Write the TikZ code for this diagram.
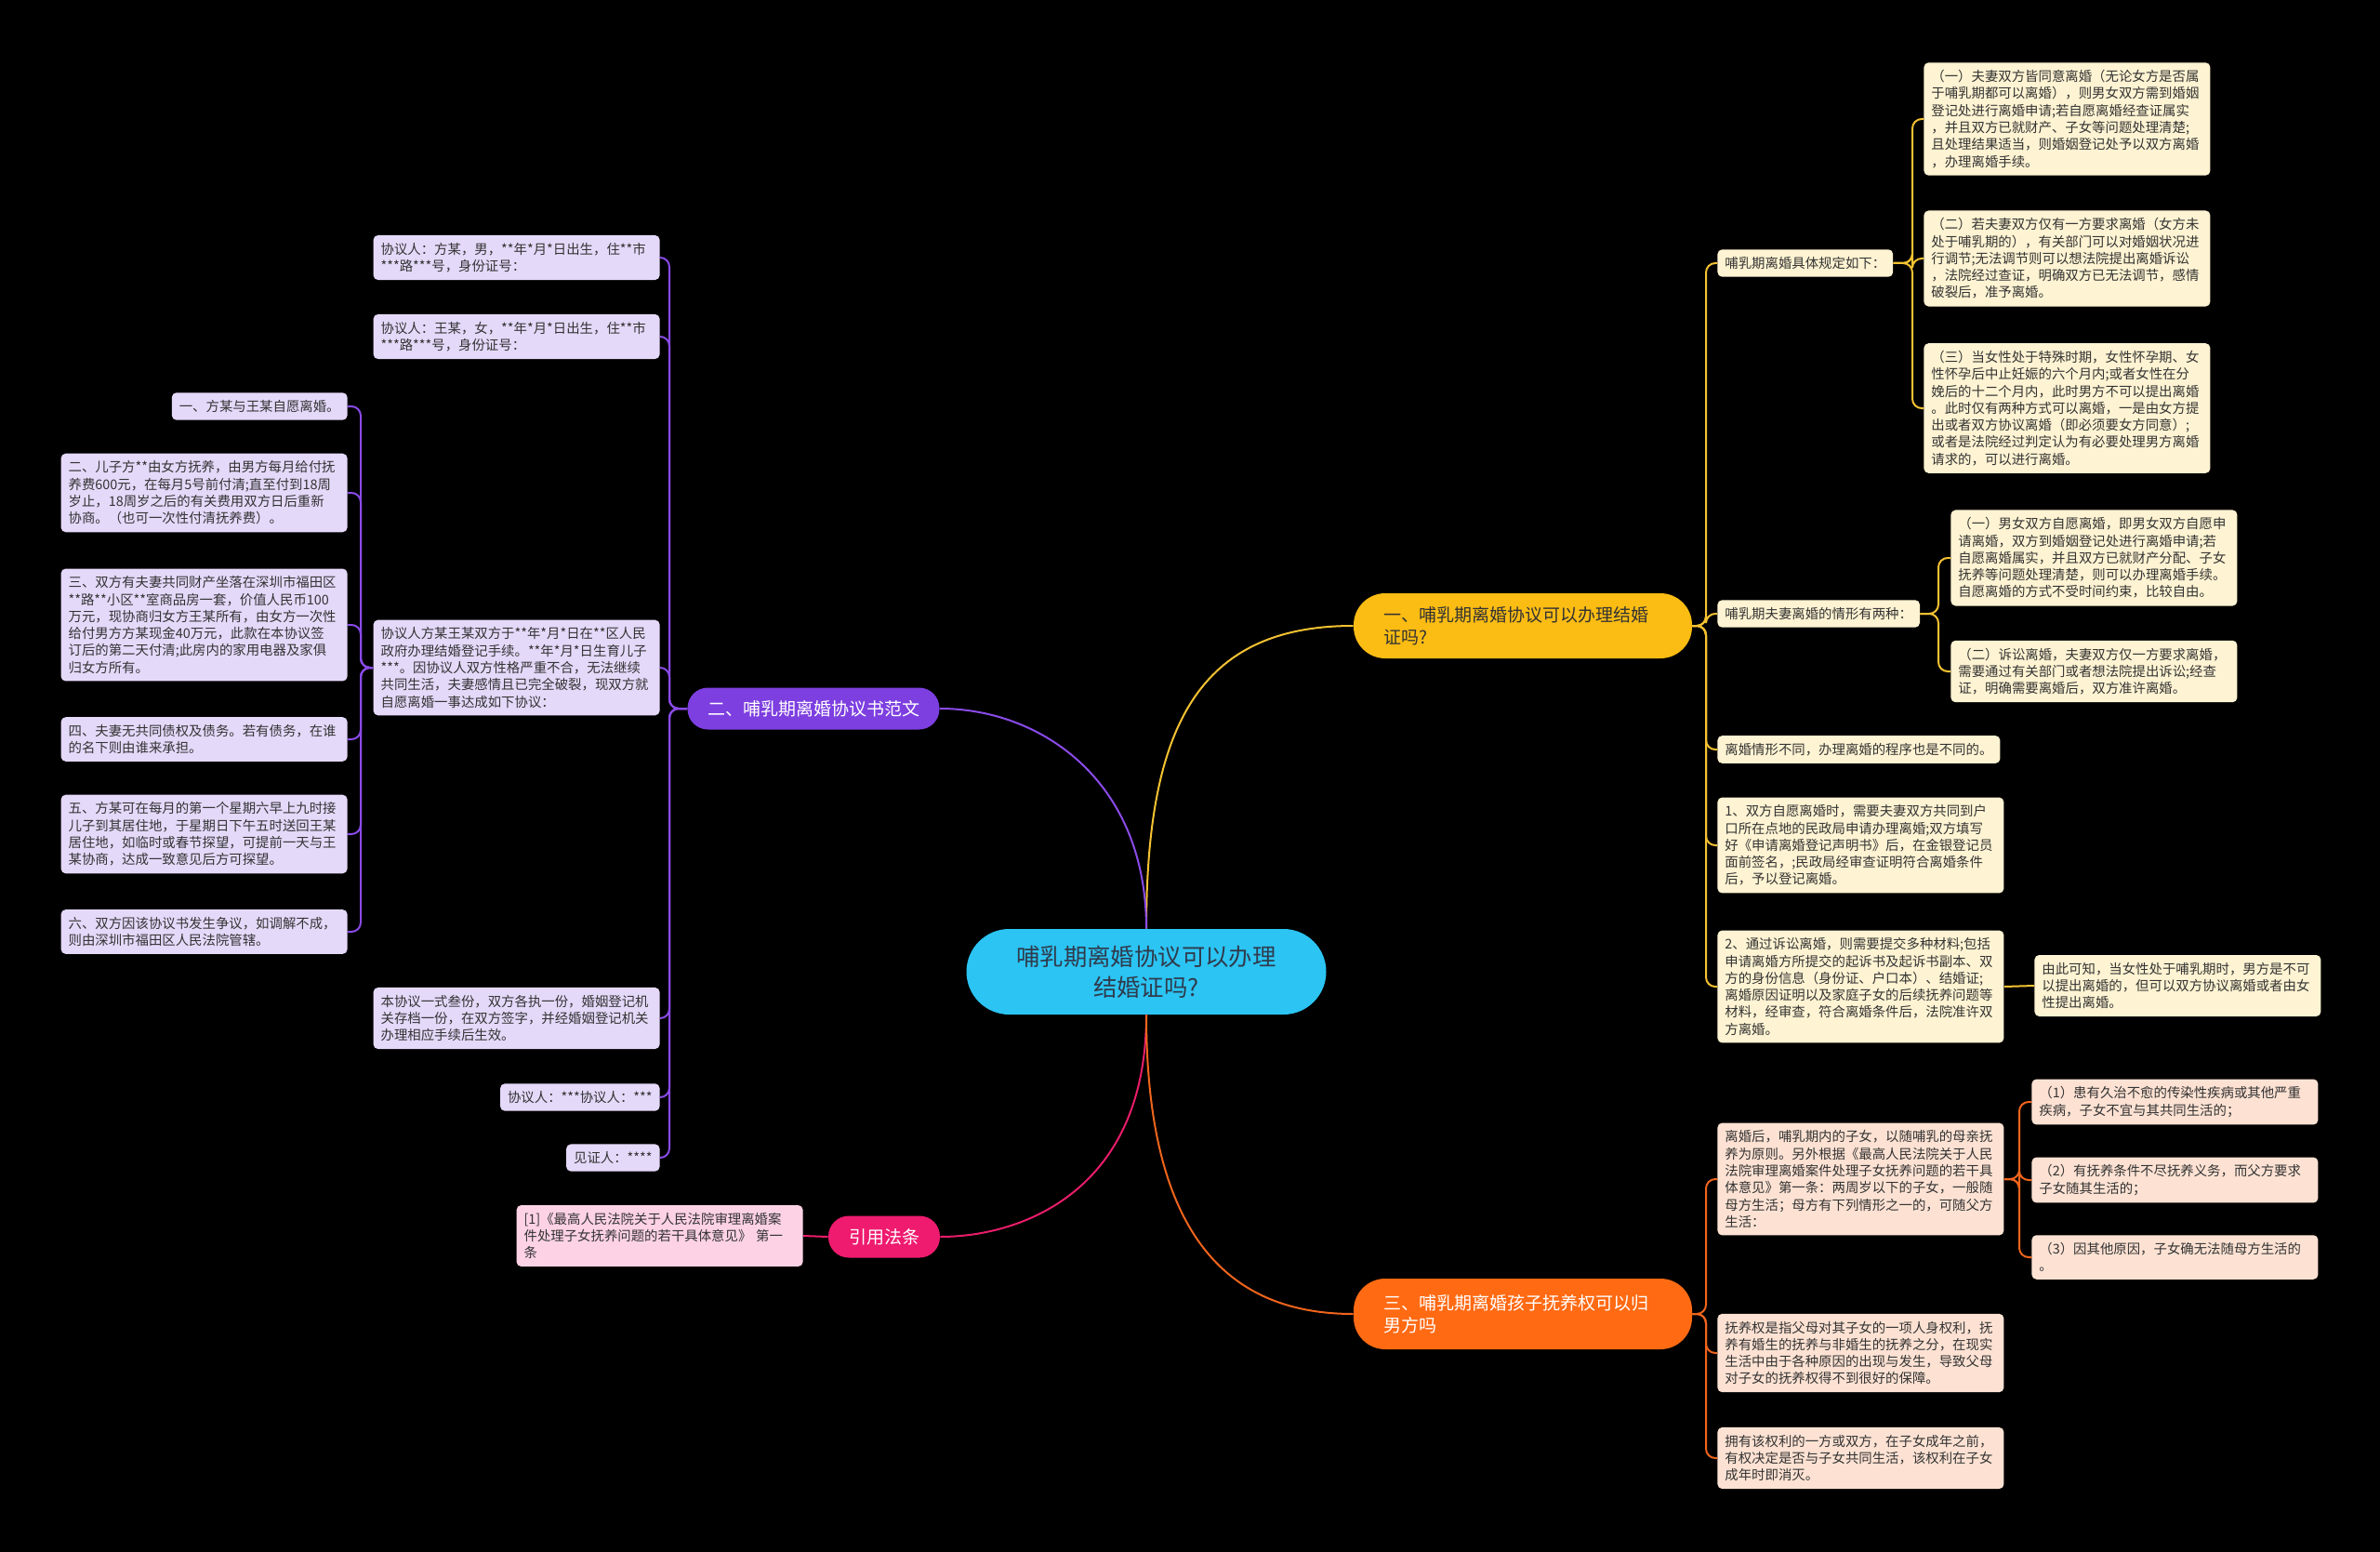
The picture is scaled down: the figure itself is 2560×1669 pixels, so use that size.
\documentclass[tikz,border=0pt]{standalone}
\usepackage{fontspec}
\setmainfont{Noto Sans CJK SC}
\definecolor{bg}{HTML}{000000}
\definecolor{ccol}{HTML}{2BC4F3}
\definecolor{ctxt}{HTML}{2F3B4C}
\definecolor{ycol}{HTML}{FBBC13}
\definecolor{yline}{HTML}{F5C232}
\definecolor{yfill}{HTML}{FEF3D2}
\definecolor{pcol}{HTML}{7D3FE0}
\definecolor{pline}{HTML}{8A4BE8}
\definecolor{pfill}{HTML}{E5D9FA}
\definecolor{kcol}{HTML}{EE1B6F}
\definecolor{kline}{HTML}{E81D6A}
\definecolor{kfill}{HTML}{FDD2E5}
\definecolor{ocol}{HTML}{FF6A13}
\definecolor{oline}{HTML}{F0651C}
\definecolor{ofill}{HTML}{FDE2D3}
\definecolor{txt}{HTML}{333333}
\begin{document}
\begin{tikzpicture}[x=0.5pt,y=-0.5pt,
  leaf/.style={rounded corners=2.5pt, inner xsep=4pt, inner ysep=4pt,
    font=\fontsize{7.2}{9.15}\selectfont, align=left, text=txt},
  multi/.style={leaf, text width=146pt},
  yleaf/.style={fill=yfill},
  pleaf/.style={fill=pfill},
  oleaf/.style={fill=ofill},
  kleaf/.style={fill=kfill},
  yl/.style={draw=yline, line width=1pt, rounded corners=5pt},
  pl/.style={draw=pline, line width=1pt, rounded corners=5pt},
  ol/.style={draw=oline, line width=1pt, rounded corners=5pt},
  kl/.style={draw=kline, line width=1pt},
  bigtopic/.style={fill=#1, rounded corners=17pt, minimum width=182pt, minimum height=35pt,
    text width=150pt, inner xsep=16pt, align=left, font=\fontsize{9.5}{12.2}\selectfont},
  smalltopic/.style={fill=#1, rounded corners=11pt, minimum height=22.5pt, text=white,
    align=center, font=\fontsize{9.5}{12.2}\selectfont},
]
\useasboundingbox (0,0) rectangle (2560,1669);
\fill[bg] (0,0) rectangle (2560,1669);

% ---------- main nodes ----------
\node[fill=ccol, rounded corners=23pt, minimum width=193.5pt, minimum height=46pt,
  align=center, text=ctxt, font=\fontsize{12.7}{16.3}\selectfont] (C) at (1233,1045)
  {哺乳期离婚协议可以办理\\结婚证吗?};
\node[bigtopic=ycol, text=txt] (Y) at (1638,673) {一、哺乳期离婚协议可以办理结婚\\证吗?};
\node[bigtopic=ocol, text=white, minimum height=38pt] (O) at (1638,1413) {三、哺乳期离婚孩子抚养权可以归\\男方吗};
\node[smalltopic=pcol, minimum width=135.5pt] (P) at (875,762) {二、哺乳期离婚协议书范文};
\node[smalltopic=kcol, minimum width=60pt] (K) at (951,1330) {引用法条};

\draw[yline, line width=1pt] (C.north) .. controls (1233,780) and (1290,673) .. (Y.west);
\draw[pline, line width=1pt] (C.north) .. controls (1233,840) and (1120,762) .. (P.east);
\draw[kline, line width=1pt] (C.south) .. controls (1233,1280) and (1100,1330) .. (K.east);
\draw[oline, line width=1pt] (C.south) .. controls (1233,1340) and (1330,1413) .. (O.west);

% ---------- yellow branch ----------
\node[leaf, yleaf, anchor=west] (a) at (1847,283) {哺乳期离婚具体规定如下：};
\node[leaf, yleaf, anchor=west] (b) at (1847,660) {哺乳期夫妻离婚的情形有两种：};
\node[leaf, yleaf, anchor=west] (c) at (1847,806) {离婚情形不同，办理离婚的程序也是不同的。};
\node[multi, yleaf, anchor=west] (d) at (1847,909) {1、双方自愿离婚时，需要夫妻双方共同到户\\口所在点地的民政局申请办理离婚;双方填写\\好《申请离婚登记声明书》后，在金银登记员\\面前签名，;民政局经审查证明符合离婚条件\\后，予以登记离婚。};
\node[multi, yleaf, anchor=west] (e) at (1847,1061) {2、通过诉讼离婚，则需要提交多种材料;包括\\申请离婚方所提交的起诉书及起诉书副本、双\\方的身份信息（身份证、户口本）、结婚证;\\离婚原因证明以及家庭子女的后续抚养问题等\\材料，经审查，符合离婚条件后，法院准许双\\方离婚。};

\node[multi, yleaf, anchor=west] (a1) at (2069,128) {（一）夫妻双方皆同意离婚（无论女方是否属\\于哺乳期都可以离婚），则男女双方需到婚姻\\登记处进行离婚申请;若自愿离婚经查证属实\\，并且双方已就财产、子女等问题处理清楚;\\且处理结果适当，则婚姻登记处予以双方离婚\\，办理离婚手续。};
\node[multi, yleaf, anchor=west] (a2) at (2069,278) {（二）若夫妻双方仅有一方要求离婚（女方未\\处于哺乳期的），有关部门可以对婚姻状况进\\行调节;无法调节则可以想法院提出离婚诉讼\\，法院经过查证，明确双方已无法调节，感情\\破裂后，准予离婚。};
\node[multi, yleaf, anchor=west] (a3) at (2069,439) {（三）当女性处于特殊时期，女性怀孕期、女\\性怀孕后中止妊娠的六个月内;或者女性在分\\娩后的十二个月内，此时男方不可以提出离婚\\。此时仅有两种方式可以离婚，一是由女方提\\出或者双方协议离婚（即必须要女方同意）;\\或者是法院经过判定认为有必要处理男方离婚\\请求的，可以进行离婚。};
\node[multi, yleaf, anchor=west] (b1) at (2098,600) {（一）男女双方自愿离婚，即男女双方自愿申\\请离婚，双方到婚姻登记处进行离婚申请;若\\自愿离婚属实，并且双方已就财产分配、子女\\抚养等问题处理清楚，则可以办理离婚手续。\\自愿离婚的方式不受时间约束，比较自由。};
\node[multi, yleaf, anchor=west] (b2) at (2098,722) {（二）诉讼离婚，夫妻双方仅一方要求离婚，\\需要通过有关部门或者想法院提出诉讼;经查\\证，明确需要离婚后，双方准许离婚。};
\node[multi, yleaf, anchor=west] (e1) at (2188,1060) {由此可知，当女性处于哺乳期时，男方是不可\\以提出离婚的，但可以双方协议离婚或者由女\\性提出离婚。};

\foreach \n in {a,b,c,d,e} \draw[yl] (Y.east) -- (1835,673) |- (\n.west);
\foreach \n in {a1,a2,a3} \draw[yl] (a.east) -- (2057,283) |- (\n.west);
\foreach \n in {b1,b2} \draw[yl] (b.east) -- (2085,660) |- (\n.west);
\draw[yl] (e.east) -- (e1.west);

% ---------- orange branch ----------
\node[multi, oleaf, anchor=west] (f1) at (1847,1268) {离婚后，哺乳期内的子女，以随哺乳的母亲抚\\养为原则。另外根据《最高人民法院关于人民\\法院审理离婚案件处理子女抚养问题的若干具\\体意见》第一条：两周岁以下的子女，一般随\\母方生活；母方有下列情形之一的，可随父方\\生活：};
\node[multi, oleaf, anchor=west] (f2) at (1847,1455) {抚养权是指父母对其子女的一项人身权利，抚\\养有婚生的抚养与非婚生的抚养之分，在现实\\生活中由于各种原因的出现与发生，导致父母\\对子女的抚养权得不到很好的保障。};
\node[multi, oleaf, anchor=west] (f3) at (1847,1568) {拥有该权利的一方或双方，在子女成年之前，\\有权决定是否与子女共同生活，该权利在子女\\成年时即消灭。};
\node[multi, oleaf, anchor=west] (f1a) at (2185,1185) {（1）患有久治不愈的传染性疾病或其他严重\\疾病，子女不宜与其共同生活的；};
\node[multi, oleaf, anchor=west] (f1b) at (2185,1269) {（2）有抚养条件不尽抚养义务，而父方要求\\子女随其生活的；};
\node[multi, oleaf, anchor=west] (f1c) at (2185,1352) {（3）因其他原因，子女确无法随母方生活的\\。};

\foreach \n in {f1,f2,f3} \draw[ol] (O.east) -- (1835,1413) |- (\n.west);
\foreach \n in {f1a,f1b,f1c} \draw[ol] (f1.east) -- (2172,1268) |- (\n.west);

% ---------- purple branch ----------
\node[multi, pleaf, anchor=east] (p1) at (710,277) {协议人：方某，男，**年*月*日出生，住**市\\{}***路***号，身份证号：};
\node[multi, pleaf, anchor=east] (p2) at (710,362) {协议人：王某，女，**年*月*日出生，住**市\\{}***路***号，身份证号：};
\node[multi, pleaf, anchor=east] (p3) at (710,718) {协议人方某王某双方于**年*月*日在**区人民\\政府办理结婚登记手续。**年*月*日生育儿子\\{}***。因协议人双方性格严重不合，无法继续\\共同生活，夫妻感情且已完全破裂，现双方就\\自愿离婚一事达成如下协议：};
\node[multi, pleaf, anchor=east] (p4) at (710,1095) {本协议一式叁份，双方各执一份，婚姻登记机\\关存档一份，在双方签字，并经婚姻登记机关\\办理相应手续后生效。};
\node[leaf, pleaf, anchor=east] (p5) at (710,1180) {协议人：***协议人：***};
\node[leaf, pleaf, anchor=east] (p6) at (710,1245) {见证人：****};

\node[leaf, pleaf, anchor=east] (q1) at (374,437) {一、方某与王某自愿离婚。};
\node[multi, pleaf, anchor=east] (q2) at (374,530) {二、儿子方**由女方抚养，由男方每月给付抚\\养费600元，在每月5号前付清;直至付到18周\\岁止，18周岁之后的有关费用双方日后重新\\协商。（也可一次性付清抚养费）。};
\node[multi, pleaf, anchor=east] (q3) at (374,672) {三、双方有夫妻共同财产坐落在深圳市福田区\\{}**路**小区**室商品房一套，价值人民币100\\万元，现协商归女方王某所有，由女方一次性\\给付男方方某现金40万元，此款在本协议签\\订后的第二天付清;此房内的家用电器及家俱\\归女方所有。};
\node[multi, pleaf, anchor=east] (q4) at (374,795) {四、夫妻无共同债权及债务。若有债务，在谁\\的名下则由谁来承担。};
\node[multi, pleaf, anchor=east] (q5) at (374,897) {五、方某可在每月的第一个星期六早上九时接\\儿子到其居住地，于星期日下午五时送回王某\\居住地，如临时或春节探望，可提前一天与王\\某协商，达成一致意见后方可探望。};
\node[multi, pleaf, anchor=east] (q6) at (374,1002) {六、双方因该协议书发生争议，如调解不成，\\则由深圳市福田区人民法院管辖。};

\foreach \n in {p1,p2,p3,p4,p5,p6} \draw[pl] (P.west) -- (720,762) |- (\n.east);
\foreach \n in {q1,q2,q3,q4,q5,q6} \draw[pl] (p3.west) -- (388,718) |- (\n.east);

% ---------- pink branch ----------
\node[multi, kleaf, anchor=east] (k1) at (864,1329) {[1]《最高人民法院关于人民法院审理离婚案\\件处理子女抚养问题的若干具体意见》 第一\\条};
\draw[kl] (K.west) -- (k1.east);
\end{tikzpicture}
\end{document}
